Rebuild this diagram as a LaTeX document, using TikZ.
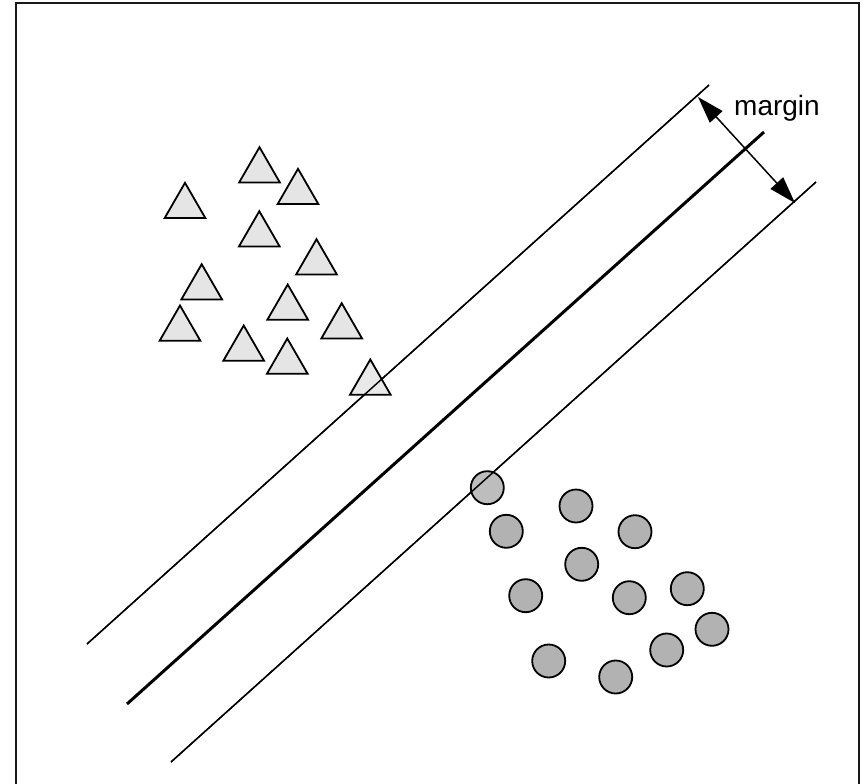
\documentclass[tikz,border=0pt]{standalone}
\usepackage{fontspec}
\setmainfont{Liberation Sans}
\usetikzlibrary{shapes.geometric,arrows.meta}
\tikzset{
  tri/.style={regular polygon, regular polygon sides=3, draw=black, fill=black!10, line width=1.8pt, inner sep=0pt, minimum size=47pt},
  dot/.style={circle, draw=black, fill=black!30, line width=1.8pt, inner sep=0pt, minimum size=33pt},
  thinline/.style={line width=1.4pt},
  thickline/.style={line width=3pt},
  marginarrow/.style={line width=1.5pt, {Triangle[length=27pt,width=17pt]}-{Triangle[length=27pt,width=17pt]}},
  lbl/.style={font=\fontsize{28}{30}\selectfont, inner sep=0pt}
}
\begin{document}
\begin{tikzpicture}[x=1pt,y=-1pt]
\useasboundingbox (0,0) rectangle (865,784);
\draw[line width=2pt, draw=black!90] (15.5,3) rectangle (858.5,800);
% lines
\coordinate (u1) at (87,644);
\coordinate (u2) at (709,85);
\coordinate (m1) at (127,704);
\coordinate (m2) at (764,132);
\coordinate (l1) at (171,762);
\coordinate (l2) at (816,182);
\draw[thinline] (u1) -- (u2);
\draw[thickline] (m1) -- (m2);
\draw[thinline] (l1) -- (l2);
% triangles
\node[tri] (t1) at (259.5,170.7) {};
\node[tri] (t2) at (298,192.3) {};
\node[tri] (t3) at (185,206.3) {};
\node[tri] (t4) at (259.3,234.7) {};
\node[tri] (t5) at (316.5,262.7) {};
\node[tri] (t6) at (201.7,287.7) {};
\node[tri] (t7) at (287.7,308) {};
\node[tri] (t8) at (180,329) {};
\node[tri] (t9) at (341.7,326.7) {};
\node[tri] (t10) at (243.7,349) {};
\node[tri] (t11) at (287.3,362) {};
\node[tri, fill opacity=0.85] (t12) at (370.3,383) {};
% circles
\node[dot, fill opacity=0.85] (c1) at (487.3,487.7) {};
\node[dot] (c2) at (576,506) {};
\node[dot] (c3) at (506.3,531.3) {};
\node[dot] (c4) at (635,531.7) {};
\node[dot] (c5) at (581.7,564.3) {};
\node[dot] (c6) at (525.7,595.7) {};
\node[dot] (c7) at (629.3,597.7) {};
\node[dot] (c8) at (687.3,588.7) {};
\node[dot] (c9) at (712,629.3) {};
\node[dot] (c10) at (666.7,650) {};
\node[dot] (c11) at (548.7,661) {};
\node[dot] (c12) at (615.7,677) {};
% redraw the line pieces that cross the markers
\draw[thinline] (u1) -- (u2);
\draw[thinline] (l1) -- (l2);
% margin arrow
\coordinate (a1) at (698,97);
\coordinate (a2) at (795,203);
\draw[marginarrow] (a1) -- (a2);
\node[lbl, anchor=base west] (margin) at (734,115) {margin};
\end{tikzpicture}
\end{document}
